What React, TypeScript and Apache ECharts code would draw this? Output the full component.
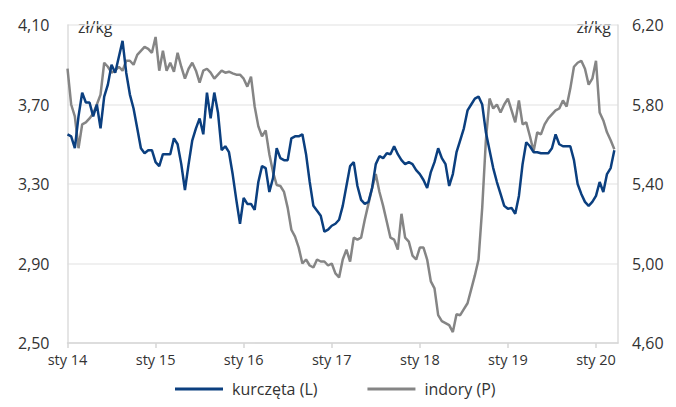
import React, { useEffect, useRef } from "react";
import * as echarts from "echarts";

// Semi-monthly prices, starting January 2014 (step = half a month)
const startYear = 2014;
const stepYears = 1 / 24;

// kurczęta, zł/kg (left axis)
const chickenPrices = [
  3.55, 3.54, 3.48, 3.64, 3.76, 3.71, 3.71, 3.64, 3.70, 3.58,
  3.74, 3.80, 3.90, 3.86, 3.94, 4.02, 3.86, 3.75, 3.68, 3.58,
  3.48, 3.455, 3.47, 3.47, 3.41, 3.39, 3.45, 3.45, 3.45, 3.53,
  3.50, 3.40, 3.27, 3.40, 3.52, 3.58, 3.63, 3.55, 3.76, 3.63,
  3.76, 3.66, 3.47, 3.49, 3.46, 3.35, 3.22, 3.10, 3.23, 3.20,
  3.20, 3.17, 3.31, 3.39, 3.38, 3.26, 3.33, 3.48, 3.43, 3.42,
  3.42, 3.53, 3.54, 3.54, 3.55, 3.45, 3.31, 3.19, 3.165, 3.14,
  3.06, 3.07, 3.09, 3.10, 3.12, 3.19, 3.29, 3.39, 3.41, 3.29,
  3.22, 3.20, 3.21, 3.28, 3.40, 3.44, 3.43, 3.455, 3.45, 3.49,
  3.45, 3.42, 3.40, 3.41, 3.40, 3.37, 3.35, 3.32, 3.28, 3.36,
  3.41, 3.48, 3.43, 3.40, 3.29, 3.35, 3.46, 3.52, 3.58, 3.67,
  3.70, 3.73, 3.74, 3.70, 3.56, 3.47, 3.38, 3.31, 3.25, 3.19,
  3.175, 3.18, 3.15, 3.24, 3.40, 3.51, 3.49, 3.46, 3.46, 3.455,
  3.455, 3.455, 3.48, 3.55, 3.50, 3.49, 3.49, 3.49, 3.42, 3.30,
  3.25, 3.21, 3.19, 3.21, 3.24, 3.31, 3.26, 3.35, 3.38, 3.47,
];

// indory, zł/kg (right axis)
const turkeyPrices = [
  5.98, 5.80, 5.74, 5.58, 5.70, 5.71, 5.73, 5.755, 5.80, 5.85,
  6.01, 5.99, 5.96, 5.97, 5.99, 5.97, 6.02, 6.02, 6.00, 6.05,
  6.07, 6.09, 6.08, 6.06, 6.14, 5.97, 6.07, 5.97, 6.01, 5.965,
  6.06, 5.99, 5.93, 5.98, 6.01, 5.97, 5.91, 5.97, 5.98, 5.96,
  5.93, 5.95, 5.97, 5.96, 5.965, 5.957, 5.95, 5.95, 5.93, 5.89,
  5.94, 5.79, 5.69, 5.64, 5.67, 5.55, 5.46, 5.395, 5.39, 5.36,
  5.28, 5.17, 5.135, 5.08, 5.00, 5.02, 4.99, 4.98, 5.02, 5.01,
  5.01, 4.99, 5.00, 4.95, 4.93, 5.02, 5.07, 5.01, 5.13, 5.12,
  5.13, 5.22, 5.30, 5.38, 5.45, 5.36, 5.29, 5.21, 5.13, 5.12,
  5.07, 5.25, 5.13, 5.11, 5.04, 5.02, 5.08, 5.08, 5.02, 4.91,
  4.875, 4.74, 4.71, 4.70, 4.69, 4.655, 4.745, 4.74, 4.77, 4.80,
  4.87, 4.94, 5.02, 5.28, 5.62, 5.83, 5.78, 5.80, 5.76, 5.80,
  5.83, 5.77, 5.71, 5.82, 5.70, 5.71, 5.64, 5.565, 5.66, 5.65,
  5.70, 5.73, 5.75, 5.77, 5.78, 5.82, 5.79, 5.88, 5.99, 6.01,
  6.02, 5.98, 5.90, 5.93, 6.02, 5.76, 5.72, 5.66, 5.62, 5.575,
];

const seriesNames = ["kurczęta (L)", "indory (P)"];
const unitLabel = "zł/kg";

const leftAxis = { min: 2.5, max: 4.1, interval: 0.4 };
const rightAxis = { min: 4.6, max: 6.2, interval: 0.4 };
const xRange = { min: 2014, max: 2020.25, interval: 1 };

const BLUE = "#0b3f7f";
const GREY = "#858585";
const FONT = "'Open Sans', 'Noto Sans', sans-serif";

const toPairs = (values: number[]) =>
  values.map((v, i) => [startYear + i * stepYears, v]);

const fmtComma = (v: number) => v.toFixed(2).replace(".", ",");

export default function App() {
  const ref = useRef<HTMLDivElement>(null);

  useEffect(() => {
    if (!ref.current) return;
    const chart = echarts.init(ref.current, undefined, { renderer: "svg" });
    chart.setOption({
      animation: false,
      backgroundColor: "#ffffff",
      grid: { left: 67.5, right: 58, top: 25, bottom: 64, containLabel: false },
      xAxis: {
        type: "value",
        min: xRange.min,
        max: xRange.max,
        interval: xRange.interval,
        axisLine: { show: true, lineStyle: { color: "#d6d6d6", width: 1.5 } },
        axisTick: { show: true, length: 5, lineStyle: { color: "#d6d6d6", width: 1.5 } },
        splitLine: { show: false },
        axisLabel: {
          color: "#333333",
          fontFamily: FONT,
          fontSize: 14.5,
          margin: 9,
          showMaxLabel: false,
          formatter: (v: number) => "sty " + String(Math.round(v)).slice(2),
        },
      },
      yAxis: [
        {
          type: "value",
          position: "left",
          min: leftAxis.min,
          max: leftAxis.max,
          interval: leftAxis.interval,
          axisLine: { show: true, lineStyle: { color: "#dcdcdc", width: 1.5 } },
          axisTick: { show: false },
          splitLine: { show: true, lineStyle: { color: "#ebebeb", width: 1.5 } },
          axisLabel: {
            color: "#333333",
            fontFamily: FONT,
            fontSize: 16,
            margin: 18,
            formatter: fmtComma,
          },
        },
        {
          type: "value",
          position: "right",
          min: rightAxis.min,
          max: rightAxis.max,
          interval: rightAxis.interval,
          axisLine: { show: true, lineStyle: { color: "#dcdcdc", width: 1.5 } },
          axisTick: { show: false },
          splitLine: { show: false },
          axisLabel: {
            color: "#333333",
            fontFamily: FONT,
            fontSize: 16,
            margin: 14,
            formatter: fmtComma,
          },
        },
      ],
      legend: {
        left: 175,
        top: 380,
        padding: 0,
        itemWidth: 48,
        itemHeight: 3,
        itemGap: 50,
        icon: "rect",
        textStyle: {
          color: "#333333",
          fontFamily: FONT,
          fontSize: 16,
          lineHeight: 18,
          padding: [0, 0, 0, 4],
        },
        data: seriesNames,
      },
      graphic: [
        {
          type: "text",
          left: 78,
          top: 19,
          style: { text: unitLabel, fill: "#333333", font: `16px ${FONT}` },
        },
        {
          type: "text",
          right: 65,
          top: 19,
          style: { text: unitLabel, fill: "#333333", font: `16px ${FONT}` },
        },
      ],
      series: [
        {
          name: seriesNames[1],
          type: "line",
          yAxisIndex: 1,
          data: toPairs(turkeyPrices),
          showSymbol: false,
          color: GREY,
          lineStyle: { color: GREY, width: 2.5 },
        },
        {
          name: seriesNames[0],
          type: "line",
          yAxisIndex: 0,
          data: toPairs(chickenPrices),
          showSymbol: false,
          color: BLUE,
          lineStyle: { color: BLUE, width: 2.5 },
        },
      ],
    });
    return () => chart.dispose();
  }, []);

  return <div ref={ref} style={{ width: 676, height: 407, position: "absolute", left: 0, top: 0 }} />;
}
